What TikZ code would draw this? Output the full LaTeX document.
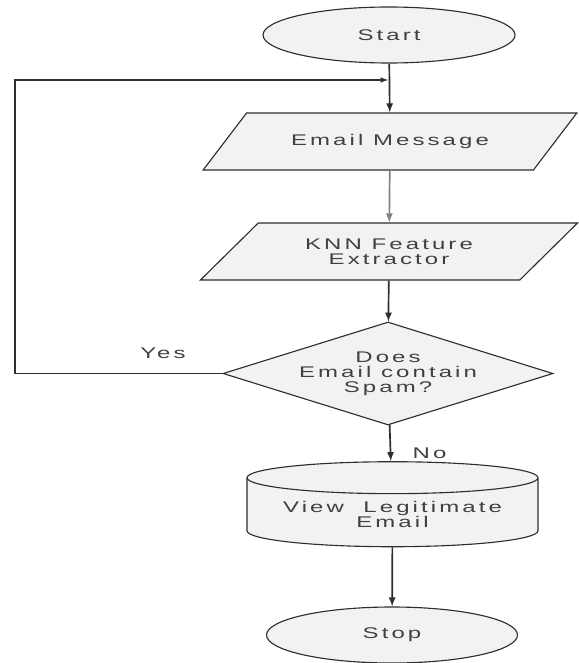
\documentclass[tikz,border=0pt]{standalone}
\usepackage{fontspec}
\setmainfont{Liberation Sans}[FakeStretch=1.55, LetterSpace=20]
\usepackage{tikz}
\usetikzlibrary{arrows,shapes.geometric}

\definecolor{linegray}{HTML}{2E2E2E}
\definecolor{boxfill}{HTML}{F2F2F2}
\definecolor{textgray}{HTML}{404040}

\tikzset{
	terminal/.style={ellipse, draw=linegray, fill=boxfill, thick, minimum width=6.3cm, minimum height=1.4cm, text=textgray},
	inout/.style={trapezium, draw=linegray, fill=boxfill, thick, trapezium stretches=true, minimum height=1.425cm, align=center, text=textgray},
	decision/.style={diamond, draw=linegray, fill=boxfill, thick, aspect=3.2, inner sep=0pt, minimum width=8.25cm, minimum height=2.575cm, align=center, text=textgray},
	store/.style={cylinder, shape border rotate=90, draw=linegray, fill=boxfill, thick, aspect=0.14, minimum width=7.275cm, minimum height=2.125cm, align=center, text=textgray},
	flow/.style={->, draw=linegray, line width=1.2pt}
}

\begin{document}
\begin{tikzpicture}[>=latex, font=\fontsize{11}{10.7}\selectfont]
%		\draw [help lines] (0,0) grid (14,-16);
		\useasboundingbox (0,0) rectangle (14.45,-16.575);
		\node [terminal] (start) at (9.725,-0.875) {Start};
		\node [inout, trapezium left angle=37.2, trapezium right angle=142.8, minimum width=9.35cm] (email) at (9.75,-3.5375) {Email Message};
		\node [inout, trapezium left angle=42, trapezium right angle=138, minimum width=9.45cm] (knn) at (9.725,-6.2875) {KNN Feature\\Extractor};
		\node [decision] (spam) at (9.7,-9.3375) {Does\\Email contain\\Spam?};
		\node [store] (view) at (9.8125,-12.8625) {View\ \ Legitimate\\Email};
		\node [terminal, minimum width=6.275cm] (stop) at (9.8,-15.875) {Stop};
		\coordinate (corner) at (0.375,-2);
		\coordinate (join) at (9.7,-2);
		\draw [flow] (start) -- (email);
		\draw [flow, draw=gray] (email) -- (knn);
		\draw [flow] (knn) -- (spam);
		\draw [flow] (spam) -- (view) node [pos=0.6, right=12pt, yshift=-5pt, text=textgray] {No};
		\draw [flow] (view) -- (stop);
		\draw [->, draw=linegray, thick] (spam.west) -| (corner) -- (join);
		\node [text=textgray] (yes) at (4.075,-8.825) {Yes};
	\end{tikzpicture}
\end{document}
